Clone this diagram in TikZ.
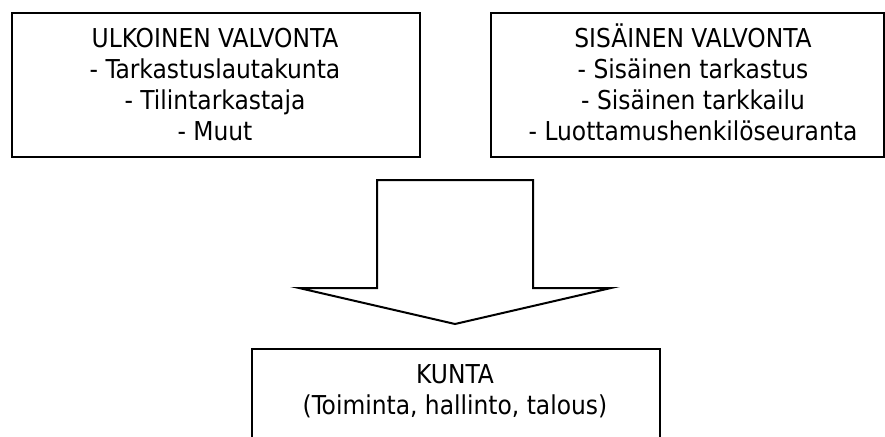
\documentclass[tikz,border=0pt]{standalone}
\usepackage{fontspec}
\setmainfont{DejaVu Sans Condensed}
\begin{document}
\begin{tikzpicture}[x=1pt,y=-1pt,
  frame/.style={draw=black,line width=2pt,rectangle,inner sep=0pt,anchor=north west},
  boxtext/.style={align=center,font=\fontsize{26}{31}\selectfont,inner sep=0pt,anchor=base},
  blockarrow/.style={draw=black,line width=2pt,line join=miter,fill=white}]
\useasboundingbox (0,0) rectangle (885,436);
\clip (0,0) rectangle (885,436);

% supervision boxes
\node[frame,minimum width=408pt,minimum height=144pt] (ext) at (11,12) {};
\node[frame,minimum width=393pt,minimum height=144pt] (int) at (490,12) {};
% the base anchor of a multi-line node sits on its last line
\node[boxtext] (extT) at (215,140) {ULKOINEN VALVONTA\\- Tarkastuslautakunta\\- Tilintarkastaja\\- Muut};
\node[boxtext] (intT) at (693,140) {SISÄINEN VALVONTA\\- Sisäinen tarkastus\\- Sisäinen tarkkailu\\- Luottamushenkilöseuranta};

% block arrow pointing down
\draw[blockarrow] (377,180) -- (533,180) -- (533,288) -- (611,288) -- (455,324)
  -- (299,288) -- (377,288) -- cycle;

% municipality box, open at the bottom edge
\node[frame,minimum width=408pt,minimum height=110pt] (kunta) at (251,348) {};
\node[boxtext] (kuntaT) at (455,414) {KUNTA\\(Toiminta, hallinto, talous)};
\end{tikzpicture}
\end{document}
